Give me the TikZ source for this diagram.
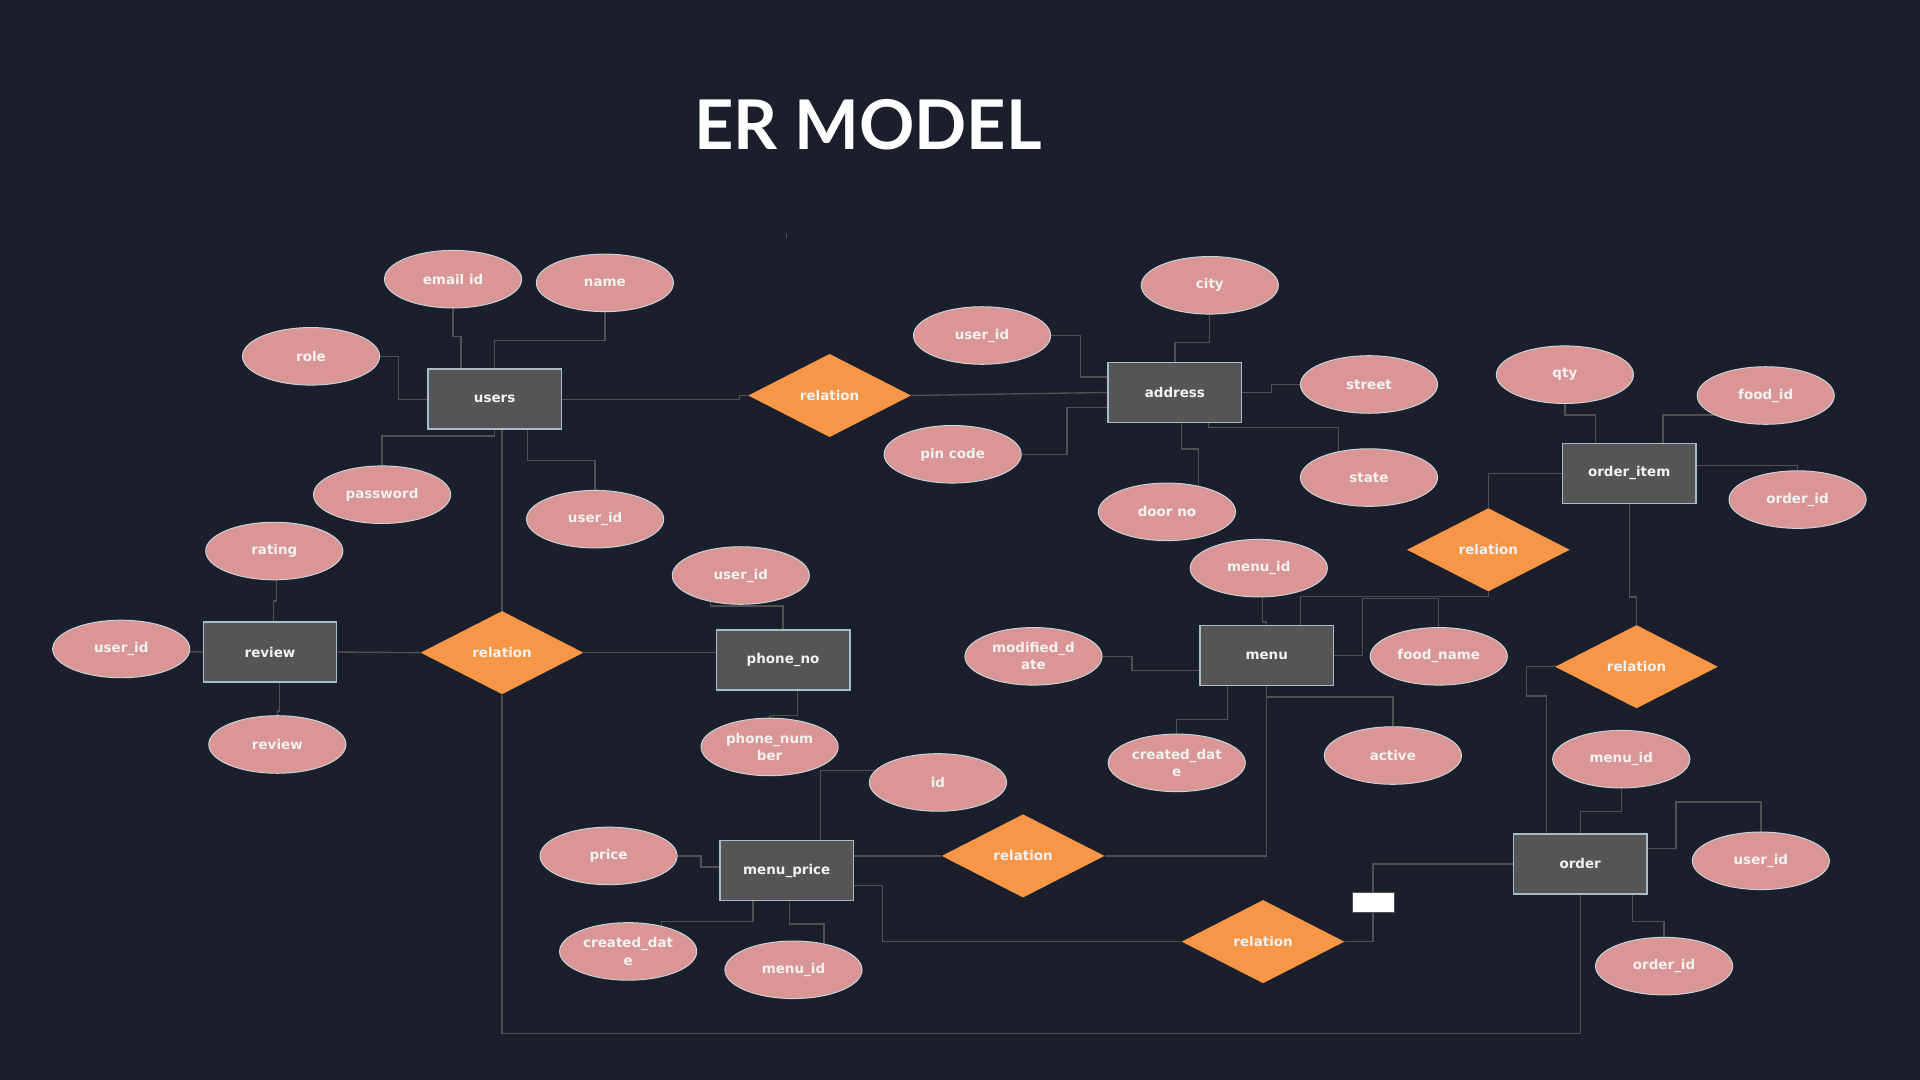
\documentclass[tikz,border=0pt]{standalone}
\usepackage{fontspec}
\usepackage{xcolor}
\usepackage{tikz}
\usetikzlibrary{shapes.geometric,backgrounds,calc}
\newfontfamily\labelfont{DejaVu Sans}
\newfontfamily\titlefont{Lato}
\definecolor{bgnavy}{HTML}{1B1F2B}
\definecolor{boxgray}{HTML}{555555}
\definecolor{boxedge}{HTML}{A8BCC8}
\definecolor{attrpink}{HTML}{D99694}
\definecolor{attredge}{HTML}{C9D3DA}
\definecolor{relorange}{HTML}{F79646}
\definecolor{linegray}{HTML}{505050}

\begin{document}
\begin{tikzpicture}[x=1pt,y=-1pt,
  txt/.style={text=white!95!black,font=\labelfont\bfseries\fontsize{11}{14}\selectfont,align=center,inner sep=0pt},
  entity/.style={txt,draw=boxedge,fill=boxgray,line width=1.2pt,minimum width=109pt,minimum height=49pt},
  attrib/.style={txt,ellipse,draw=attredge,fill=attrpink,line width=0.8pt,minimum width=112pt,minimum height=47pt},
  relation/.style={txt,diamond,fill=relorange,minimum width=133pt,minimum height=68pt},
  connector/.style={draw=linegray,line width=1.1pt}]
  \useasboundingbox (0,0) rectangle (1568,882);
  % Title
  \node[text=white,font=\titlefont\bfseries\fontsize{56}{60}\selectfont] (title) at (709,102) {ER MODEL};
  % Entities
  \node[entity] (users) at (404,326) {users};
  \node[entity] (address) at (959.5,320.5) {address};
  \node[entity] (oitem) at (1330.5,386.5) {order\_item};
  \node[entity] (review) at (220.5,532.5) {review};
  \node[entity] (phone) at (639.5,539) {phone\_no};
  \node[entity] (menu) at (1034.5,535.5) {menu};
  \node[entity] (mprice) at (642.5,711) {menu\_price};
  \node[entity] (order) at (1290.5,705.5) {order};
  % Relations
  \node[relation] (r1) at (677.5,323) {relation};
  \node[relation] (r2) at (410,533) {relation};
  \node[relation] (r3) at (1215.5,449) {relation};
  \node[relation] (r4) at (1336.5,544.5) {relation};
  \node[relation] (r5) at (835.5,699) {relation};
  \node[relation] (r6) at (1031.5,769) {relation};
  % Attributes
  \node[attrib] (email) at (370,228) {email id};
  \node[attrib] (name) at (494,231) {name};
  \node[attrib] (role) at (254,291) {role};
  \node[attrib] (pass) at (312,404) {password};
  \node[attrib] (uidU) at (486,424) {user\_id};
  \node[attrib] (rating) at (224,450) {rating};
  \node[attrib] (uidR) at (99,530) {user\_id};
  \node[attrib] (revtxt) at (226.5,608) {review};
  \node[attrib] (uidP) at (605,470) {user\_id};
  \node[attrib] (phnum) at (628.5,610) {phone\_num\\ber};
  \node[attrib] (idattr) at (766,639) {id};
  \node[attrib] (uidA) at (802,274) {user\_id};
  \node[attrib] (city) at (988,233) {city};
  \node[attrib] (street) at (1118,314) {street};
  \node[attrib] (pin) at (778,371) {pin code};
  \node[attrib] (state) at (1118,390) {state};
  \node[attrib] (door) at (953,418) {door no};
  \node[attrib] (qty) at (1278,306) {qty};
  \node[attrib] (foodid) at (1442,323) {food\_id};
  \node[attrib] (oidI) at (1468,408) {order\_id};
  \node[attrib] (menuidM) at (1028,464) {menu\_id};
  \node[attrib] (moddate) at (844,536) {modified\_d\\ate};
  \node[attrib] (foodname) at (1175,536) {food\_name};
  \node[attrib] (cdateM) at (961,623) {created\_dat\\e};
  \node[attrib] (active) at (1137.5,617) {active};
  \node[attrib] (menuidO) at (1324,620) {menu\_id};
  \node[attrib] (uidO) at (1438,703) {user\_id};
  \node[attrib] (oidO) at (1359,789) {order\_id};
  \node[attrib] (price) at (497,699) {price};
  \node[attrib] (cdateP) at (513,777) {created\_dat\\e};
  \node[attrib] (menuidP) at (648,792) {menu\_id};
  % Blank label
  \node[draw=linegray,fill=white,minimum width=35pt,minimum height=16pt,inner sep=0pt] (blank) at (1121.5,737) {};
  % Connectors
  \begin{scope}[on background layer]
    \fill[bgnavy] (0,0) rectangle (1568,882);
    \draw[connector] (642.5,190) -- (642.5,194);
    % users
    \draw[connector] (email.south) -- ++(0,23) -| ([xshift=-27.5pt]users.north);
    \draw[connector] (name.south) -- ++(0,23) -| (users.north);
    \draw[connector] (role.east) -- ++(15,0) |- (users.west);
    \draw[connector] (users.east) -- ++(145,0) |- (r1.west);
    \draw[connector] (users.south) -- ++(0,5) -| (pass.north);
    \draw[connector] ([xshift=27pt]users.south) -- ++(0,25) -| (uidU.north);
    \draw[connector] ([xshift=6pt]users.south) -- (r2.north);
    % review and phone_no
    \draw[connector] ([xshift=2pt]rating.south) -- ++(0,17) -| ([xshift=3pt]review.north);
    \draw[connector] (uidR.center) -- (review.west);
    \draw[connector] ([xshift=8pt]review.south) -- ++(0,23) -| (revtxt.north);
    \draw[connector] (review.east) -- (r2.west);
    \draw[connector] (r2.east) -- (r2.east -| phone.west);
    \draw[connector] ([xshift=-25pt]uidP.center) -- ++(0,25) -| (phone.north);
    \draw[connector] ([xshift=12pt]phone.south) -- ++(0,20) -| (phnum.north);
    % address
    \draw[connector] (r1.east) -- (address.west);
    \draw[connector] (uidA.east) -- ++(24,0) |- ([yshift=12.5pt]address.west);
    \draw[connector] (city.south) -- ++(0,23) -| (address.north);
    \draw[connector] (address.east) -- ++(24,0) |- (street.west);
    \draw[connector] (pin.east) -- ++(37,0) |- ([yshift=-12.5pt]address.west);
    \draw[connector] ([xshift=5.5pt]address.south) -- ++(0,21) -| ([xshift=26pt]door.center);
    \draw[connector] ([xshift=27.5pt]address.south) -- ++(0,3.5) -| ([xshift=-25pt]state.center);
    % order_item
    \draw[connector] (qty.south) -- ++(0,9) -| ([xshift=-27.5pt]oitem.north);
    \draw[connector] ([yshift=-16pt]foodid.center) -| ([xshift=27.5pt]oitem.north);
    \draw[connector] ([yshift=6.5pt]oitem.east) -| (oidI.north);
    \draw[connector] (oitem.west) -| (r3.north);
    \draw[connector] (oitem.south) -- ++(0,76) -| (r4.north);
    % menu
    \draw[connector] ([xshift=3pt]menuidM.south) -- ++(0,20) -| (menu.north);
    \draw[connector] (r3.south) -- ++(0,4) -| ([xshift=27.5pt]menu.north);
    \draw[connector] (menu.east) -- ++(23,0) -- ++(0,-46.5) -| (foodname.north);
    \draw[connector] (moddate.east) -- ++(24,0) |- ([yshift=-12pt]menu.west);
    \draw[connector] ([xshift=-32pt]menu.south) -- ++(0,27) -| (cdateM.north);
    \draw[connector] (menu.south) -- ++(0,8.5) -| (active.north);
    \draw[connector] (menu.south) |- (r5.east);
    % order
    \draw[connector] (r4.west) -- ++(-23,0) -- ++(0,24) -| ([xshift=-27.5pt]order.north);
    \draw[connector] (menuidO.south) -- ++(0,19) -| (order.north);
    \draw[connector] ([yshift=12.5pt]order.east) -- ++(23,0) -- ++(0,-38) -| (uidO.north);
    \draw[connector] ([xshift=42.5pt]order.south) -- ++(0,22) -| (oidO.north);
    \draw[connector] (r6.east) -- ++(23,0) |- (order.west);
    \draw[connector] (r2.south) -- ++(0,277) -| (order.south);
    % menu_price
    \draw[connector] ([yshift=12pt]mprice.east) -- (r5.west);
    \draw[connector] ([yshift=-12pt]mprice.east) -- ++(23,0) |- (r6.west);
    \draw[connector] ([xshift=27.5pt]mprice.north) |- ([yshift=10pt]idattr.center);
    \draw[connector] (price.east) -- ++(19,0) |- ([yshift=3pt]mprice.west);
    \draw[connector] ([xshift=-27.5pt]mprice.south) -- ++(0,16.5) -| ([xshift=27pt]cdateP.center);
    \draw[connector] ([xshift=2.5pt]mprice.south) -- ++(0,18.5) -| ([xshift=25pt]menuidP.center);
  \end{scope}
\end{tikzpicture}
\end{document}
